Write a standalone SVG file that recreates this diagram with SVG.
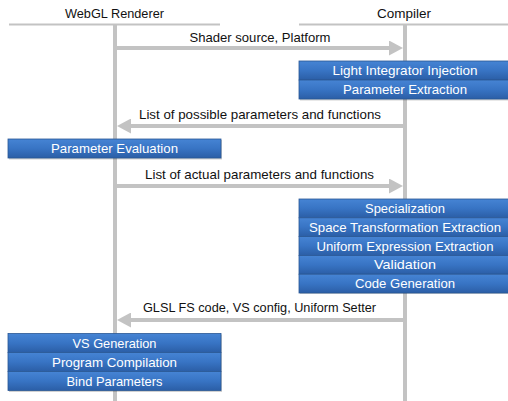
<svg xmlns="http://www.w3.org/2000/svg" width="508" height="401" viewBox="0 0 508 401">
<style>
.hdr{font-family:"Liberation Sans",Arial,sans-serif;font-size:13.5px;fill:#111;text-anchor:middle}
.lbl{font-family:"Liberation Sans",Arial,sans-serif;font-size:13px;fill:#111;text-anchor:middle}
.bt{font-family:"Liberation Sans",Arial,sans-serif;font-size:13px;fill:#fff;text-anchor:middle}
.life{stroke:#c3c3c3;stroke-width:4;fill:none}
.hline{stroke:#c3c3c3;stroke-width:2;fill:none}
.msg{stroke:#c3c3c3;stroke-width:4;fill:none;marker-end:url(#ah)}
.row{fill:url(#g);stroke:#2a5795;stroke-width:0.8}
.shadow{fill:#000;opacity:0.18}
</style>
<defs>
<linearGradient id="g" x1="0" y1="0" x2="0" y2="1">
<stop offset="0" stop-color="#4684d4"/>
<stop offset="0.5" stop-color="#3874c4"/>
<stop offset="1" stop-color="#2b5ea6"/>
</linearGradient>
<marker id="ah" markerUnits="userSpaceOnUse" viewBox="0 0 14 15" refX="3" refY="7.5" markerWidth="14" markerHeight="15" orient="auto">
<path d="M0,0 L14,7.5 L0,15 Z" fill="#c3c3c3"/>
</marker>
</defs>
<rect width="508" height="401" fill="#fff"/>
<g id="lifelines">
<line class="hline" x1="9" y1="24.5" x2="220" y2="24.5"/>
<line class="hline" x1="299" y1="24.5" x2="508" y2="24.5"/>
<line class="life" x1="115" y1="25" x2="115" y2="401"/>
<line class="life" x1="405" y1="25" x2="405" y2="401"/>
<text class="hdr" x="114.5" y="18" textLength="99" lengthAdjust="spacingAndGlyphs">WebGL Renderer</text>
<text class="hdr" x="404" y="18" textLength="54" lengthAdjust="spacingAndGlyphs">Compiler</text>
</g>
<g id="connectors">
<line class="msg" x1="117" y1="48" x2="392" y2="48"/>
<text class="lbl" x="260" y="41.5" textLength="141" lengthAdjust="spacingAndGlyphs">Shader source, Platform</text>
<line class="msg" x1="403" y1="126" x2="128" y2="126"/>
<text class="lbl" x="260" y="118.5" textLength="242" lengthAdjust="spacingAndGlyphs">List of possible parameters and functions</text>
<line class="msg" x1="117" y1="186" x2="392" y2="186"/>
<text class="lbl" x="259.5" y="178.5" textLength="229" lengthAdjust="spacingAndGlyphs">List of actual parameters and functions</text>
<line class="msg" x1="403" y1="320" x2="128" y2="320"/>
<text class="lbl" x="259.5" y="312" textLength="233" lengthAdjust="spacingAndGlyphs">GLSL FS code, VS config, Uniform Setter</text>
</g>
<g id="compiler-steps-1">
<rect class="shadow" x="300" y="62" width="212" height="38.5"/>
<rect class="row" x="299" y="61" width="212" height="19"/>
<text class="bt" x="405" y="75.2" textLength="145" lengthAdjust="spacingAndGlyphs">Light Integrator Injection</text>
<rect class="row" x="299" y="80" width="212" height="19"/>
<text class="bt" x="405" y="94.2" textLength="124" lengthAdjust="spacingAndGlyphs">Parameter Extraction</text>
</g>
<g id="renderer-step-1">
<rect class="shadow" x="9" y="140" width="213" height="19.5"/>
<rect class="row" x="8" y="139" width="213" height="19"/>
<text class="bt" x="114.5" y="153.2" textLength="127" lengthAdjust="spacingAndGlyphs">Parameter Evaluation</text>
</g>
<g id="compiler-steps-2">
<rect class="shadow" x="300" y="200" width="212" height="94"/>
<rect class="row" x="299" y="199" width="212" height="18.8"/>
<text class="bt" x="405" y="213" textLength="80" lengthAdjust="spacingAndGlyphs">Specialization</text>
<rect class="row" x="299" y="217.8" width="212" height="18.8"/>
<text class="bt" x="405" y="231.8" textLength="192" lengthAdjust="spacingAndGlyphs">Space Transformation Extraction</text>
<rect class="row" x="299" y="236.6" width="212" height="18.8"/>
<text class="bt" x="405" y="250.6" textLength="177" lengthAdjust="spacingAndGlyphs">Uniform Expression Extraction</text>
<rect class="row" x="299" y="255.4" width="212" height="18.8"/>
<text class="bt" x="405" y="269.4" textLength="62" lengthAdjust="spacingAndGlyphs">Validation</text>
<rect class="row" x="299" y="274.2" width="212" height="18.8"/>
<text class="bt" x="405" y="288.2" textLength="100" lengthAdjust="spacingAndGlyphs">Code Generation</text>
</g>
<g id="renderer-steps-2">
<rect class="shadow" x="9" y="334.5" width="213" height="57.5"/>
<rect class="row" x="8" y="333.5" width="213" height="19"/>
<text class="bt" x="114.5" y="347.7" textLength="84" lengthAdjust="spacingAndGlyphs">VS Generation</text>
<rect class="row" x="8" y="352.5" width="213" height="19"/>
<text class="bt" x="114.5" y="366.7" textLength="125" lengthAdjust="spacingAndGlyphs">Program Compilation</text>
<rect class="row" x="8" y="371.5" width="213" height="19"/>
<text class="bt" x="114.5" y="385.7" textLength="96" lengthAdjust="spacingAndGlyphs">Bind Parameters</text>
</g>
</svg>
